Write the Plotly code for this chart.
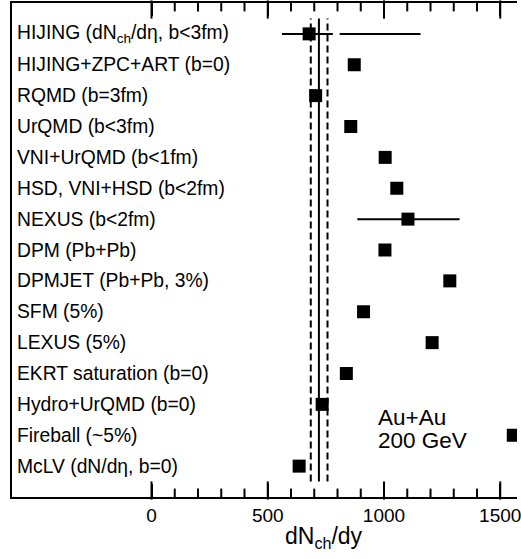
import plotly.graph_objects as go

models = [
    "HIJING (dN<sub>ch</sub>/dη, b&lt;3fm)",
    "HIJING+ZPC+ART (b=0)",
    "RQMD (b=3fm)",
    "UrQMD (b&lt;3fm)",
    "VNI+UrQMD (b&lt;1fm)",
    "HSD, VNI+HSD (b&lt;2fm)",
    "NEXUS (b&lt;2fm)",
    "DPM (Pb+Pb)",
    "DPMJET (Pb+Pb, 3%)",
    "SFM (5%)",
    "LEXUS (5%)",
    "EKRT saturation (b=0)",
    "Hydro+UrQMD (b=0)",
    "Fireball (~5%)",
    "McLV (dN/dη, b=0)",
]
values = [678, 872, 706, 857, 1005, 1055, 1103, 1004, 1283, 912, 1207, 838, 734, 1556, 635]
err_minus = [117, 0, 0, 0, 0, 0, 218, 0, 0, 0, 0, 0, 0, 0, 0]
err_plus = [102, 0, 0, 0, 0, 0, 222, 0, 0, 0, 0, 0, 0, 0, 0]
# second HIJING range segment
hijing_extra = [809, 1157]

meas_value = 720
meas_low = 685
meas_high = 757

major_ticks = [0, 500, 1000, 1500]
minor_ticks = [100, 200, 300, 400, 600, 700, 800, 900, 1100, 1200, 1300, 1400]

x_range = [-600, 1572]

n = len(models)
ypos = [n - 1 - i for i in range(n)]
y_range = [-1, n]

FONT = "Liberation Sans, Arial, Helvetica, sans-serif"
FS = 19.3

HEIGHT, MT, MB = 559, 3, 62
px_per_unit = (HEIGHT - MT - MB) / (y_range[1] - y_range[0])

fig = go.Figure()

line_top = n - 0.5
line_bot = -0.5
fig.add_trace(go.Scatter(x=[meas_value, meas_value], y=[line_bot, line_top], mode="lines",
                         line=dict(color="black", width=2), showlegend=False, hoverinfo="skip"))
for v in (meas_low, meas_high):
    fig.add_trace(go.Scatter(x=[v, v], y=[line_bot, line_top], mode="lines",
                             line=dict(color="black", width=2, dash="7px,4px"),
                             showlegend=False, hoverinfo="skip"))

fig.add_trace(go.Scatter(x=hijing_extra, y=[ypos[0], ypos[0]], mode="lines",
                         line=dict(color="black", width=2), showlegend=False, hoverinfo="skip"))

fig.add_trace(go.Scatter(
    x=values, y=ypos, mode="markers",
    marker=dict(symbol="square", size=13, color="black", line=dict(width=0)),
    error_x=dict(type="data", symmetric=False, array=err_plus, arrayminus=err_minus,
                 color="black", thickness=2, width=0),
    showlegend=False, cliponaxis=True,
))

# inside tick marks on bottom and top, drawn as vertical line markers from the tick lists
for ticks_list, length_px in ((major_ticks, 13), (minor_ticks, 7)):
    d = length_px / px_per_unit / 2
    fig.add_trace(go.Scatter(
        x=ticks_list + ticks_list,
        y=[y_range[0] + d] * len(ticks_list) + [y_range[1] - d] * len(ticks_list),
        mode="markers",
        marker=dict(symbol="line-ns", size=length_px, color="black",
                    line=dict(color="black", width=2)),
        showlegend=False, hoverinfo="skip", cliponaxis=False,
    ))

annotations = []
for name, y in zip(models, ypos):
    annotations.append(dict(x=x_range[0], y=y, xref="x", yref="y", text=name, showarrow=False,
                            xanchor="left", yanchor="middle", xshift=3,
                            font=dict(family=FONT, size=FS, color="black")))

annotations.append(dict(x=964, y=1.58, xref="x", yref="y", text="Au+Au", showarrow=False,
                        xanchor="left", yanchor="middle",
                        font=dict(family=FONT, size=22.5, color="black")))
annotations.append(dict(x=964, y=0.83, xref="x", yref="y", text="200 GeV", showarrow=False,
                        xanchor="left", yanchor="middle",
                        font=dict(family=FONT, size=22.5, color="black")))
annotations.append(dict(x=741, y=0, xref="x", yref="paper", text="dN<sub>ch</sub>/dy",
                        showarrow=False, xanchor="center", yanchor="middle", yshift=-40,
                        font=dict(family=FONT, size=23, color="black")))

fig.update_layout(
    width=521, height=HEIGHT,
    margin=dict(l=12, r=0, t=MT, b=MB),
    paper_bgcolor="white", plot_bgcolor="white",
    annotations=annotations,
    xaxis=dict(range=x_range, tickmode="array", tickvals=major_ticks,
               ticktext=[str(t) for t in major_ticks], ticklabeloverflow="allow",
               ticks="inside", ticklen=13, tickwidth=2, tickcolor="black",
               showline=True, linecolor="black", linewidth=2, mirror="ticks",
               showgrid=False, zeroline=False,
               tickfont=dict(family=FONT, size=19, color="black")),
    yaxis=dict(range=y_range, showticklabels=False, ticks="", showgrid=False,
               zeroline=False, showline=True, linecolor="black", linewidth=2, mirror=False),
)

fig.write_html("out.html", config={"displayModeBar": False},
               post_script="document.body.style.margin='0';document.body.style.overflow='hidden';")
